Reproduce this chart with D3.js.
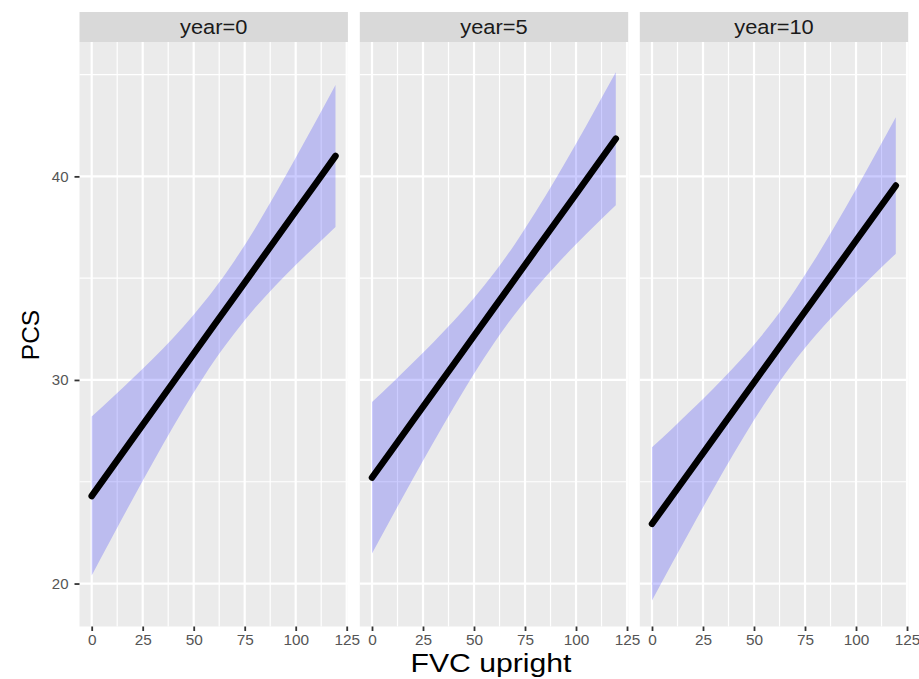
<!DOCTYPE html>
<html><head><meta charset="utf-8">
<script src="https://cdn.jsdelivr.net/npm/d3@7"></script>
<style>body{margin:0;background:#fff}svg{display:block}</style>
</head><body>
<svg id="chart" width="919" height="679"></svg>
<script>
// ---- data ----
const panels = ["year=0", "year=5", "year=10"];
const fvc = [0, 10, 20, 30, 40, 50, 60, 70, 80, 90, 100, 110, 119.5];
const fitYear0   = [24.30, 25.70, 27.10, 28.49, 29.89, 31.29, 32.69, 34.08, 35.48, 36.88, 38.28, 39.67, 41.00];
const upperYear0 = [28.20, 29.12, 30.07, 31.04, 32.07, 33.20, 34.45, 35.86, 37.43, 39.13, 40.91, 42.73, 44.49];
const lowerYear0 = [20.40, 22.28, 24.13, 25.94, 27.71, 29.38, 30.93, 32.30, 33.53, 34.63, 35.65, 36.61, 37.51];
const fitYear5   = [25.20, 26.59, 27.99, 29.38, 30.77, 32.17, 33.56, 34.95, 36.35, 37.74, 39.13, 40.53, 41.85];
const upperYear5 = [28.92, 29.86, 30.84, 31.84, 32.89, 34.03, 35.28, 36.67, 38.22, 39.87, 41.60, 43.40, 45.12];
const lowerYear5 = [21.48, 23.32, 25.14, 26.92, 28.65, 30.31, 31.84, 33.23, 34.48, 35.61, 36.66, 37.66, 38.58];
const fitYear10   = [22.93, 24.32, 25.71, 27.10, 28.49, 29.88, 31.27, 32.67, 34.06, 35.45, 36.84, 38.23, 39.55];
const upperYear10 = [26.69, 27.62, 28.58, 29.57, 30.61, 31.73, 32.98, 34.40, 35.95, 37.62, 39.37, 41.17, 42.90];
const lowerYear10 = [19.17, 21.02, 22.84, 24.63, 26.37, 28.03, 29.56, 30.94, 32.17, 33.28, 34.31, 35.29, 36.20];
const xTicks = [0, 25, 50, 75, 100, 125];
const xMinor = [12.5, 37.5, 62.5, 87.5, 112.5];
const yTicks = [20, 30, 40];
const yMinor = [25, 35, 45];
const xTitle = "FVC upright";
const yTitle = "PCS";

const series = [
  {label: panels[0], fit: fitYear0, upper: upperYear0, lower: lowerYear0},
  {label: panels[1], fit: fitYear5, upper: upperYear5, lower: lowerYear5},
  {label: panels[2], fit: fitYear10, upper: upperYear10, lower: lowerYear10}
];

// ---- layout ----
const svg = d3.select("#chart");
const panelLefts = [79.5, 359.8, 639.8];
const panelW = 268.4;
const stripTop = 12, panelTop = 42, panelBottom = 626.5;
const font = "'Liberation Sans', Arial, Helvetica, sans-serif";

const x = d3.scaleLinear().domain([-5.98, 125.58]).range([0, panelW]);
const y = d3.scaleLinear().domain([17.89, 46.6]).range([panelBottom, panelTop]);

series.forEach((s, i) => {
  const g = svg.append("g").attr("transform", `translate(${panelLefts[i]},0)`);
  // strip
  g.append("rect").attr("x", 0).attr("y", stripTop).attr("width", panelW)
    .attr("height", panelTop - stripTop).attr("fill", "#d9d9d9");
  g.append("text").attr("x", panelW / 2).attr("y", 34.5).attr("text-anchor", "middle")
    .attr("font-family", font).attr("font-size", 19.5).attr("fill", "#1a1a1a")
    .attr("transform", `translate(${panelW/2},0) scale(1.12,1) translate(${-panelW/2},0)`)
    .text(s.label);
  // panel
  g.append("rect").attr("x", 0).attr("y", panelTop).attr("width", panelW)
    .attr("height", panelBottom - panelTop).attr("fill", "#ebebeb");
  // grid
  g.selectAll(".ymin").data(yMinor).enter().append("line")
    .attr("x1", 0).attr("x2", panelW).attr("y1", d => y(d)).attr("y2", d => y(d))
    .attr("stroke", "#fff").attr("stroke-width", 1.2);
  g.selectAll(".xmin").data(xMinor).enter().append("line")
    .attr("y1", panelTop).attr("y2", panelBottom).attr("x1", d => x(d)).attr("x2", d => x(d))
    .attr("stroke", "#fff").attr("stroke-width", 1.2);
  g.selectAll(".ymaj").data(yTicks).enter().append("line")
    .attr("x1", 0).attr("x2", panelW).attr("y1", d => y(d)).attr("y2", d => y(d))
    .attr("stroke", "#fff").attr("stroke-width", 2.2);
  g.selectAll(".xmaj").data(xTicks).enter().append("line")
    .attr("y1", panelTop).attr("y2", panelBottom).attr("x1", d => x(d)).attr("x2", d => x(d))
    .attr("stroke", "#fff").attr("stroke-width", 2.2);
  // ribbon
  const pts = fvc.map((v, j) => ({x: v, fit: s.fit[j], up: s.upper[j], lo: s.lower[j]}));
  const area = d3.area().x(d => x(d.x)).y0(d => y(d.lo)).y1(d => y(d.up)).curve(d3.curveMonotoneX);
  g.append("path").datum(pts).attr("d", area).attr("fill", "blue").attr("fill-opacity", 0.2);
  // fit line
  const line = d3.line().x(d => x(d.x)).y(d => y(d.fit));
  g.append("path").datum(pts).attr("d", line).attr("fill", "none").attr("stroke", "#000")
    .attr("stroke-width", 6.5).attr("stroke-linecap", "round");
  // x axis
  const xa = g.append("g").attr("transform", `translate(0,${panelBottom})`)
    .call(d3.axisBottom(x).tickValues(xTicks).tickSize(4.5).tickPadding(4).tickFormat(d3.format("d")));
  xa.select(".domain").remove();
  xa.selectAll(".tick line").attr("stroke", "#333").attr("stroke-width", 1.8);
  xa.selectAll(".tick text").attr("font-family", font).attr("font-size", 14.5)
    .attr("fill", "#555").attr("dy", "0.71em")
    .attr("transform", "scale(1.06,1)");
});

// y axis (left panel only)
const ya = svg.append("g").attr("transform", `translate(${panelLefts[0]},0)`)
  .call(d3.axisLeft(y).tickValues(yTicks).tickSize(5).tickPadding(6));
ya.select(".domain").remove();
ya.selectAll(".tick line").attr("stroke", "#333").attr("stroke-width", 1.8);
ya.selectAll(".tick text").attr("font-family", font).attr("font-size", 15).attr("fill", "#555");

// titles
svg.append("text").attr("x", 491).attr("y", 672).attr("text-anchor", "middle")
  .attr("font-family", font).attr("font-size", 26).attr("fill", "#000")
  .attr("transform", "translate(491,0) scale(1.16,1) translate(-491,0)")
  .text(xTitle);
svg.append("text").attr("transform", "translate(39,335) rotate(-90)")
  .attr("text-anchor", "middle").attr("font-family", font).attr("font-size", 24.5)
  .attr("fill", "#000").text(yTitle);
</script>
</body></html>
